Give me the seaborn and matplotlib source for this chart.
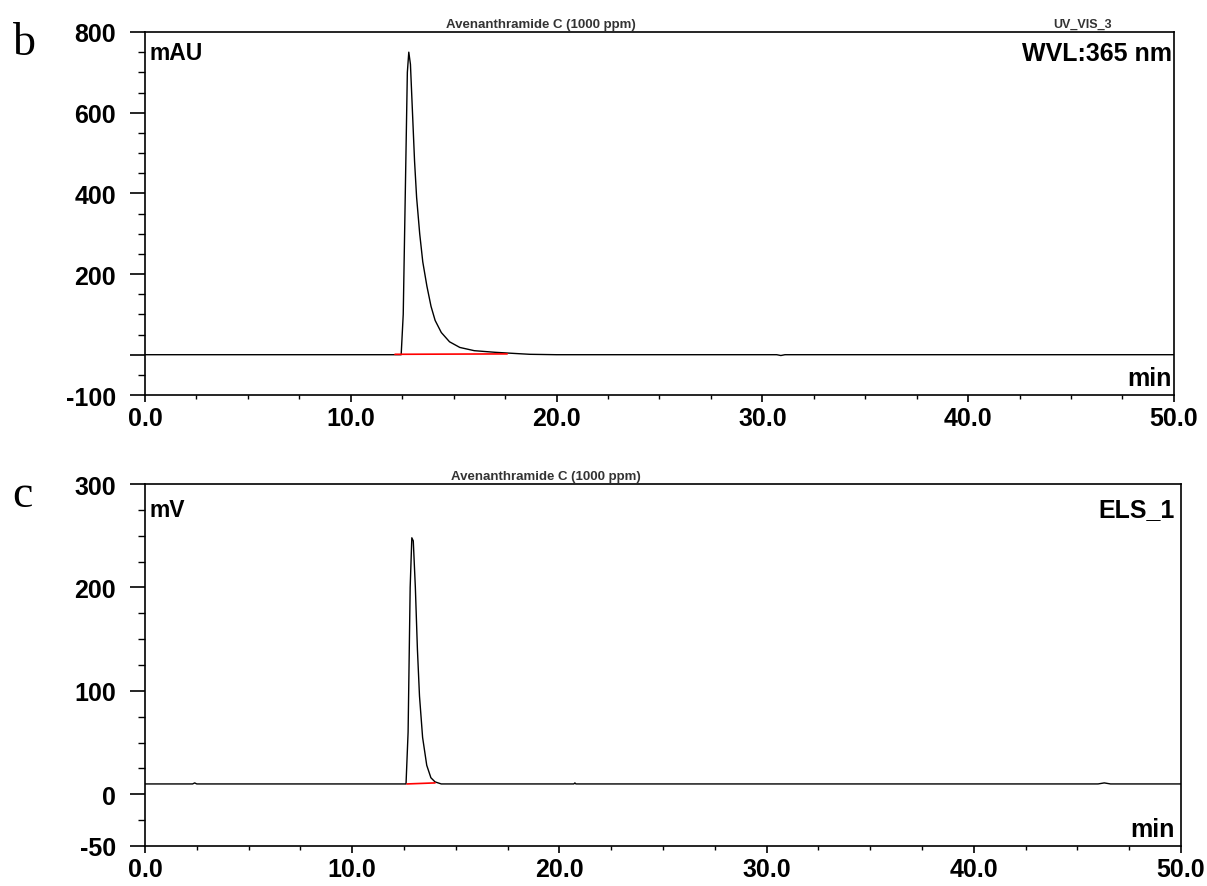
import numpy as np
import pandas as pd
import matplotlib
matplotlib.use("Agg")
import matplotlib.pyplot as plt
import seaborn as sns
from matplotlib.ticker import MultipleLocator, FormatStrFormatter

sns.set_style("ticks")
plt.rcParams['font.family'] = ['Liberation Sans', 'DejaVu Sans']
plt.rcParams['text.color'] = 'black'
plt.rcParams['xtick.color'] = 'black'
plt.rcParams['ytick.color'] = 'black'
plt.rcParams['xtick.labelcolor'] = 'black'
plt.rcParams['ytick.labelcolor'] = 'black'

# ===============================
# DATA
# ===============================
# panel b : UV_VIS_3, WVL 365 nm
uv_time = [0.0, 12.0, 12.45, 12.55, 12.65, 12.75, 12.82, 12.9, 13.0, 13.1, 13.2,
           13.35, 13.5, 13.7, 13.9, 14.1, 14.4, 14.8, 15.3, 16.0, 17.0, 18.0,
           18.7, 20.0, 30.7, 30.9, 31.1, 50.0]
uv_mau = [0, 0, 0, 100, 400, 700, 750, 720, 600, 480, 390,
          300, 230, 170, 120, 85, 55, 32, 18, 10, 6, 3,
          1, 0, 0, -2, 0, 0]
uv_base_time = [12.15, 17.6]
uv_base_mau = [1, 2]

# panel c : ELS_1
els_time = [0.0, 2.3, 2.4, 2.5, 12.6, 12.7, 12.8, 12.88, 12.95, 13.05, 13.15,
            13.25, 13.4, 13.6, 13.8, 14.0, 14.3, 20.7, 20.75, 20.8, 46.0,
            46.3, 46.6, 50.0]
els_mv = [10, 10, 11, 10, 10, 60, 200, 248, 245, 200, 140,
          95, 55, 28, 16, 12, 10, 10, 11, 10, 10,
          11, 10, 10]
els_base_time = [12.65, 14.0]
els_base_mv = [10, 11]

title = "Avenanthramide C (1000 ppm)"

# ===============================
# FIGURE
# ===============================
fig = plt.figure(figsize=(12.07, 8.87), dpi=100)
ax1 = fig.add_axes([0.1201, 0.5535, 0.8525, 0.4093])
ax2 = fig.add_axes([0.1201, 0.0451, 0.8583, 0.4081])

df_uv = pd.DataFrame({"t": uv_time, "y": uv_mau})
df_els = pd.DataFrame({"t": els_time, "y": els_mv})

sns.lineplot(data=df_uv, x="t", y="y", ax=ax1, color="black", lw=1.0,
             estimator=None, sort=False)
sns.lineplot(x=uv_base_time, y=uv_base_mau, ax=ax1, color="red", lw=1.2,
             estimator=None)
sns.lineplot(data=df_els, x="t", y="y", ax=ax2, color="black", lw=1.0,
             estimator=None, sort=False)
sns.lineplot(x=els_base_time, y=els_base_mv, ax=ax2, color="red", lw=1.2,
             estimator=None)


def style_axis(ax, ylim, yticks, ylabels, yminor):
    ax.set_xlim(0, 50)
    ax.set_ylim(*ylim)
    ax.set_xlabel("")
    ax.set_ylabel("")
    ax.xaxis.set_major_locator(MultipleLocator(10))
    ax.xaxis.set_minor_locator(MultipleLocator(2.5))
    ax.xaxis.set_major_formatter(FormatStrFormatter("%.1f"))
    ax.set_yticks(yticks)
    ax.set_yticklabels(ylabels)
    ax.yaxis.set_minor_locator(MultipleLocator(yminor))
    ax.tick_params(axis="y", which="major", length=11, width=1.2, pad=10,
                   labelsize=18, direction="out", colors="black")
    ax.tick_params(axis="y", which="minor", length=5, width=1.0,
                   direction="out", colors="black")
    ax.tick_params(axis="x", which="major", length=5, width=1.2, pad=3,
                   labelsize=18, direction="out", colors="black")
    ax.tick_params(axis="x", which="minor", length=3, width=1.0,
                   direction="out", colors="black")
    for lab in ax.get_xticklabels() + ax.get_yticklabels():
        lab.set_fontweight("bold")
    for s in ax.spines.values():
        s.set_visible(True)
        s.set_linewidth(1.2)
        s.set_color("black")
    ax.grid(False)


style_axis(ax1, (-100, 800), [-100, 0, 200, 400, 600, 800],
           ["-100", "", "200", "400", "600", "800"], 50)
style_axis(ax2, (-50, 300), [-50, 0, 100, 200, 300],
           ["-50", "0", "100", "200", "300"], 25)

# inside labels
ax1.text(0.004, 0.975, "mAU", transform=ax1.transAxes, ha="left", va="top",
         fontsize=16.5, fontweight="bold")
ax1.text(0.998, 0.975, "WVL:365 nm", transform=ax1.transAxes, ha="right",
         va="top", fontsize=18, fontweight="bold")
ax1.text(0.998, 0.015, "min", transform=ax1.transAxes, ha="right",
         va="bottom", fontsize=18, fontweight="bold")
ax2.text(0.004, 0.96, "mV", transform=ax2.transAxes, ha="left", va="top",
         fontsize=16.5, fontweight="bold")
ax2.text(0.994, 0.965, "ELS_1", transform=ax2.transAxes, ha="right",
         va="top", fontsize=18, fontweight="bold")
ax2.text(0.994, 0.015, "min", transform=ax2.transAxes, ha="right",
         va="bottom", fontsize=18, fontweight="bold")

# small titles above the frames
fig.text(0.448, 0.9655, title, ha="center", va="bottom", fontsize=9.5,
         fontweight="bold", color="#333333")
fig.text(0.897, 0.9655, "UV_VIS_3", ha="center", va="bottom", fontsize=9,
         fontweight="bold", color="#333333")
fig.text(0.452, 0.456, title, ha="center", va="bottom", fontsize=9.5,
         fontweight="bold", color="#333333")

# panel letters
fig.text(0.020, 0.975, "b", ha="center", va="top", fontsize=33,
         family="Liberation Serif")
fig.text(0.019, 0.465, "c", ha="center", va="top", fontsize=33,
         family="Liberation Serif")

fig.savefig("out.png", dpi=100)
